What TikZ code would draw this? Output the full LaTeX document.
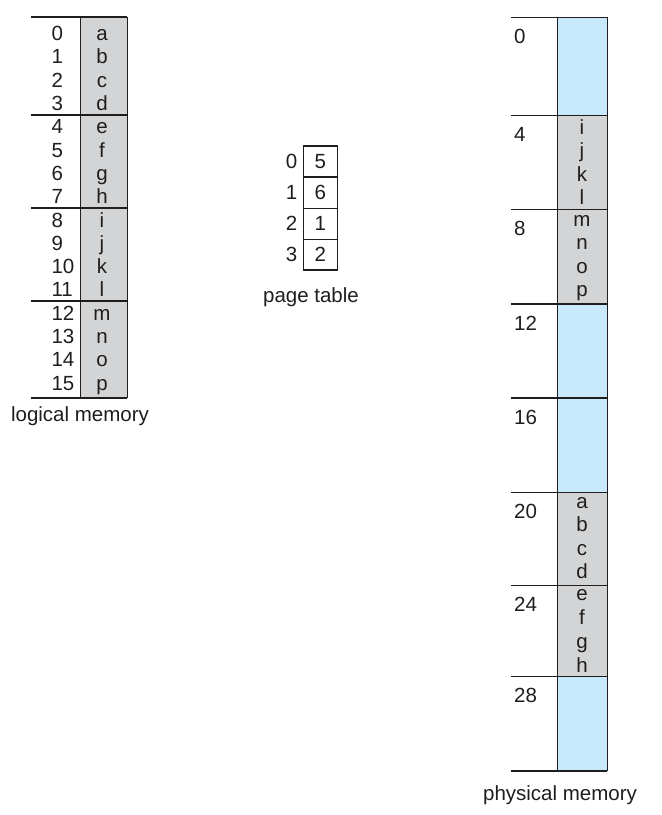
\documentclass[tikz,border=0pt]{standalone}
\usepackage{fontspec}
\setmainfont{Liberation Sans}
\definecolor{cellgray}{RGB}{211,212,213}
\definecolor{cellblue}{RGB}{199,233,251}
\definecolor{ink}{RGB}{30,30,30}
\begin{document}
\begin{tikzpicture}[x=1pt,y=-1pt,
  frame/.style={line width=1.3pt, draw=ink},
  txt/.style={font=\fontsize{20.5}{24}\selectfont, inner sep=0pt, text=ink},
  lbl/.style={txt, anchor=base}
]
\useasboundingbox (0,0) rectangle (662,815);
% ---------- logical memory ----------
\fill[cellgray] (80.7,17) rectangle (127.3,398);
\foreach \y in {17,115,208,301,398} \draw[frame] (31,\y) -- (127.3,\y);
\draw[frame] (80.7,17) -- (80.7,398);
\draw[frame] (127.3,17) -- (127.3,398);
\foreach \i in {0,...,15}
  \node[txt, anchor=base west] (ln\i) at (51.3,{40.6+23.3*\i}) {\i};
\foreach \l [count=\i from 0] in {a,b,c,d,e,f,g,h,i,j,k,l,m,n,o,p}
  \node[txt, anchor=base] (lc\i) at (102,{40.6+23.3*\i}) {\l};
\node[lbl] (lmlabel) at (80,421) {logical memory};
% ---------- page table ----------
\draw[frame] (303.3,146) rectangle (337.3,270);
\foreach \y in {177,208.3,239.3} \draw[frame] (303.3,\y) -- (337.3,\y);
\foreach \v [count=\i from 0] in {5,6,1,2} {
  \node[txt] (pti\i) at (291.5,{161.8+30.9*\i}) {\i};
  \node[txt] (ptv\i) at (320.3,{161.8+30.9*\i}) {\v};
}
\node[lbl] (ptlabel) at (311,302) {page table};
% ---------- physical memory ----------
\foreach \a/\b/\c in {17.3/115.3/cellblue, 115.3/209.3/cellgray, 209.3/304/cellgray,
  304/398/cellblue, 398/492.3/cellblue, 492.3/585.3/cellgray, 585.3/676.7/cellgray,
  676.7/771/cellblue}
  \fill[\c] (557.7,\a) rectangle (607.3,\b);
\foreach \y in {17.3,115.3,209.3,304,398,492.3,585.3,676.7,771}
  \draw[frame] (511,\y) -- (607.3,\y);
\draw[frame] (557.7,17.3) -- (557.7,771);
\draw[frame] (607.3,17.3) -- (607.3,771);
\foreach \t/\n in {17.3/0,115.3/4,209.3/8,304/12,398/16,492.3/20,585.3/24,676.7/28}
  \node[txt, anchor=base west] (pa\n) at (514,\t+26) {\n};
\foreach \t/\o/\s in {115.3/18.7/ijkl, 209.3/17/mnop, 492.3/16/abcd, 585.3/15.6/efgh} {
  \foreach \l [count=\i from 0] in \s {}
}
\foreach \l [count=\i from 0] in {i,j,k,l}
  \node[lbl] (pi\i) at (582,{115.3+18.7+23.5*\i}) {\l};
\foreach \l [count=\i from 0] in {m,n,o,p}
  \node[lbl] (pm\i) at (582,{209.3+17+23.5*\i}) {\l};
\foreach \l [count=\i from 0] in {a,b,c,d}
  \node[lbl] (pa\i) at (582,{492.3+16+23.4*\i}) {\l};
\foreach \l [count=\i from 0] in {e,f,g,h}
  \node[lbl] (pe\i) at (582,{585.3+15.6+23.7*\i}) {\l};
\node[lbl] (pmlabel) at (560,800) {physical memory};
\end{tikzpicture}
\end{document}
